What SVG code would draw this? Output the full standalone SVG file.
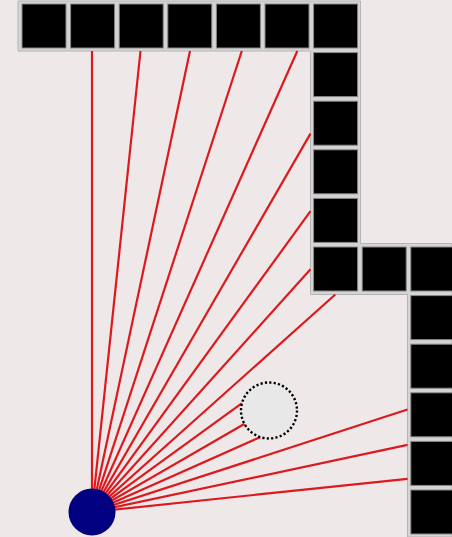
<svg xmlns="http://www.w3.org/2000/svg" width="452" height="537" viewBox="0 0 452 537">
<style>
.cell{fill:#000;stroke:#888;stroke-width:1}
.ray{stroke:#dc1a1e;stroke-width:2.2;fill:none}
</style>
<defs>
<rect id="c" class="cell" width="44" height="44"/>
</defs>
<rect width="452" height="537" fill="#eee8e8"/>
<g id="wall">
<polygon points="18,1 360.5,1 360.5,243.5 452,243.5 452,537 407.5,537 407.5,294.5 310.5,294.5 310.5,51 18,51" fill="#d4d4d4" stroke="#b4b4b4" stroke-width="1"/>
<use href="#c" x="22" y="4"/>
<use href="#c" x="70.6" y="4"/>
<use href="#c" x="119.2" y="4"/>
<use href="#c" x="167.8" y="4"/>
<use href="#c" x="216.4" y="4"/>
<use href="#c" x="265" y="4"/>
<use href="#c" x="313.6" y="4"/>
<use href="#c" x="313.6" y="52.6"/>
<use href="#c" x="313.6" y="101.2"/>
<use href="#c" x="313.6" y="149.8"/>
<use href="#c" x="313.6" y="198.4"/>
<use href="#c" x="313.6" y="247"/>
<use href="#c" x="362.2" y="247"/>
<use href="#c" x="410.8" y="247"/>
<use href="#c" x="410.8" y="295.6"/>
<use href="#c" x="410.8" y="344.2"/>
<use href="#c" x="410.8" y="392.8"/>
<use href="#c" x="410.8" y="441.4"/>
<use href="#c" x="410.8" y="490"/>
</g>
<g id="rays">
<line class="ray" x1="92" y1="512" x2="92" y2="51"/>
<line class="ray" x1="92" y1="512" x2="140.5" y2="51"/>
<line class="ray" x1="92" y1="512" x2="190" y2="51"/>
<line class="ray" x1="92" y1="512" x2="241.8" y2="51"/>
<line class="ray" x1="92" y1="512" x2="297.3" y2="51"/>
<line class="ray" x1="92" y1="512" x2="310.5" y2="133.6"/>
<line class="ray" x1="92" y1="512" x2="310.5" y2="211.2"/>
<line class="ray" x1="92" y1="512" x2="310.5" y2="269.3"/>
<line class="ray" x1="92" y1="512" x2="335.3" y2="294.5"/>
<line class="ray" x1="92" y1="512" x2="241.7" y2="403.3"/>
<line class="ray" x1="92" y1="512" x2="244.7" y2="423.8"/>
<line class="ray" x1="92" y1="512" x2="260.1" y2="437.2"/>
<line class="ray" x1="92" y1="512" x2="407.5" y2="409.5"/>
<line class="ray" x1="92" y1="512" x2="407.5" y2="444.9"/>
<line class="ray" x1="92" y1="512" x2="407.5" y2="478.8"/>
</g>
<g id="obstacle">
<circle cx="269" cy="410.5" r="28" fill="#e8e8e8" stroke="#000" stroke-width="2.4" stroke-dasharray="2.2 2.2"/>
</g>
<g id="source">
<circle cx="92" cy="512" r="23.5" fill="#000080"/>
</g>
</svg>
